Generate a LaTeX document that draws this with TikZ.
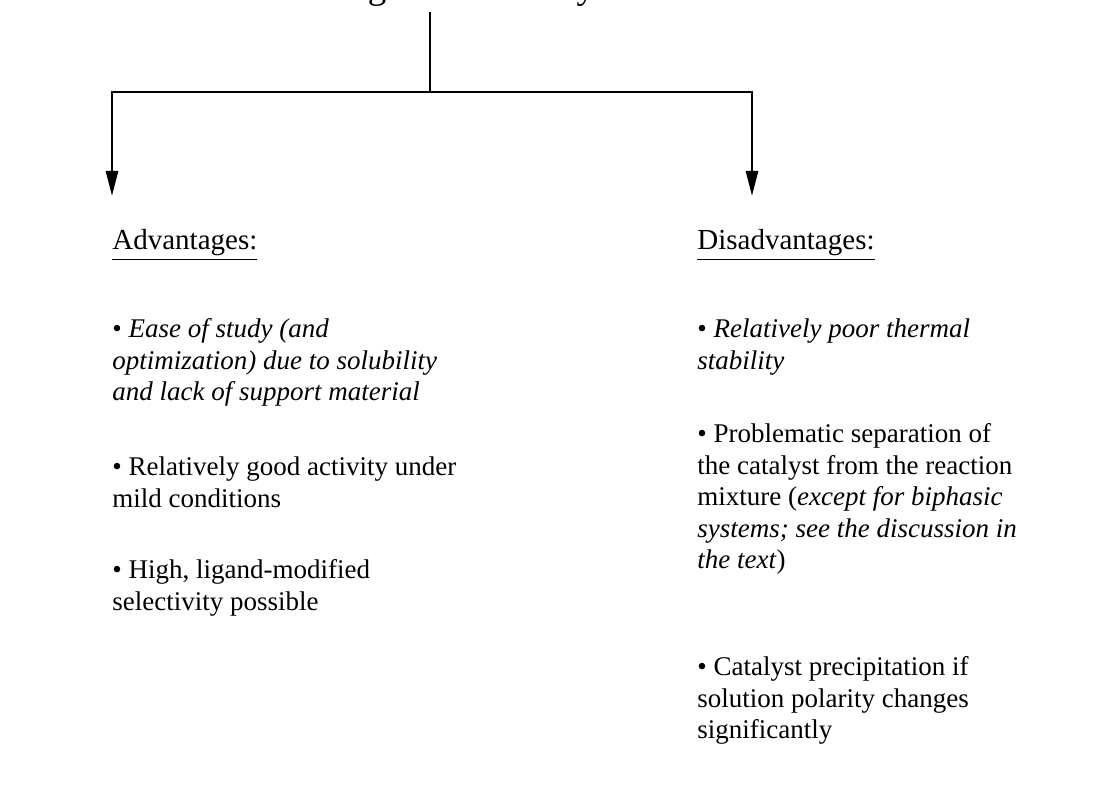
\documentclass[tikz,border=0pt]{standalone}
\usepackage{fontspec}
\setmainfont{Liberation Serif}
\usetikzlibrary{arrows.meta}
\tikzset{
  conn/.style={line width=1.4pt, line cap=butt},
  arr/.style={conn, -{Triangle[length=12.5pt,width=6pt]}},
  txt/.style={anchor=base west, inner sep=0pt, align=left,
    font=\fontsize{13.5pt}{15.75pt}\selectfont},
  hdr/.style={txt, font=\fontsize{14.5pt}{15.75pt}\selectfont},
  ttl/.style={anchor=base west, inner sep=0pt, font=\fontsize{18.5pt}{22pt}\selectfont}
}
\begin{document}
\begin{tikzpicture}[x=0.5pt,y=-0.5pt]
\useasboundingbox[fill=white] (0,0) rectangle (1099,795);
\begin{scope}
\clip (0,0) rectangle (1099,795);
\node[ttl] (title) at (275,-1) {Homogeneous Catalysis};
\end{scope}
\coordinate (top) at (430,12);
\coordinate (j) at (430,92);
\coordinate (ltip) at (112,196);
\coordinate (rtip) at (752,196);
\draw[conn] (top) -- (j);
\draw[arr] (j) -| (ltip);
\draw[arr] (j) -| (rtip);

% base anchor = baseline of the last line
\node[hdr] (adv) at (112,250) {\underline{Advantages:}};
\node[txt] (a1) at (112,401) {\textbullet\ \textit{Ease of study (and}\\ \textit{optimization) due to solubility}\\ \textit{and lack of support material}};
\node[txt] (a2) at (112,507.5) {\textbullet\ Relatively good activity under\\ mild conditions};
\node[txt] (a3) at (112,610.5) {\textbullet\ High, ligand-modified\\ selectivity possible};

\node[hdr] (dis) at (697,250) {\underline{Disadvantages:}};
\node[txt] (d1) at (697,369.5) {\textbullet\ \textit{Relatively poor thermal}\\ \textit{stability}};
\node[txt] (d2) at (697,569) {\textbullet\ Problematic separation of\\ the catalyst from the reaction\\ mixture (\textit{except for biphasic}\\ \textit{systems; see the discussion in}\\ \textit{the text})};
\node[txt] (d3) at (697,739) {\textbullet\ Catalyst precipitation if\\ solution polarity changes\\ significantly};
\end{tikzpicture}
\end{document}
